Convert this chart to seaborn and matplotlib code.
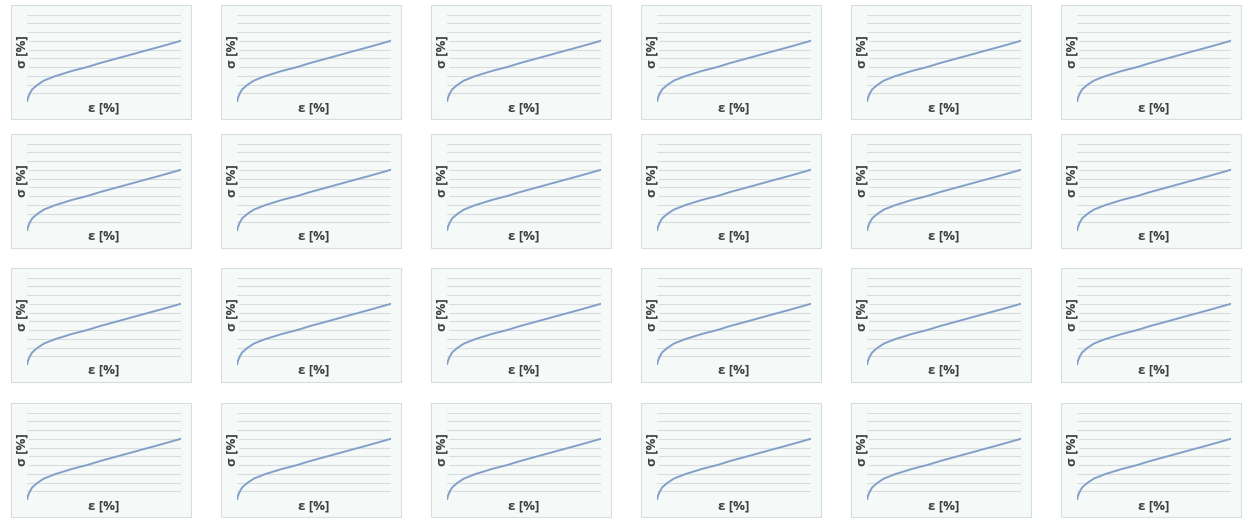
import matplotlib
matplotlib.use("Agg")
import matplotlib.pyplot as plt
import seaborn as sns
import pandas as pd
from matplotlib.patches import Rectangle

# ---- data ----
strain = [0, 0.65, 1.9, 3.4, 6.7, 11.0, 18.2, 29.2, 39.6, 47.4, 60.4, 73.4, 86.4, 100]
stress = [0, 0.5, 1.0, 1.45, 1.95, 2.45, 2.95, 3.55, 4.02, 4.45, 5.07, 5.7, 6.32, 7.0]
x_label = "ε [%]"
y_label = "σ [%]"
n_rows = 4
n_cols = 6

df = pd.DataFrame({"strain": strain, "stress": stress})

sns.set_theme(style="white")
plt.rcParams["font.family"] = ["Open Sans", "DejaVu Sans"]

W, H = 1245, 518
fig = plt.figure(figsize=(W / 100, H / 100), dpi=100)
fig.patch.set_facecolor("white")

col_left = [11 + 210 * c for c in range(n_cols)]
row_top = [5, 134, 268, 403]
box_w, box_h = 180, 114

bg = "#f5f9f8"
edge = "#d8dddd"
grid_c = "#dadddd"
line_c = "#83a0c8"
txt_c = "#404040"

for r in range(n_rows):
    for c in range(n_cols):
        bl = col_left[c]
        bt = row_top[r]
        # panel box
        fig.patches.append(Rectangle((bl / W, 1 - (bt + box_h) / H), box_w / W, box_h / H,
                                     transform=fig.transFigure, facecolor=bg,
                                     edgecolor=edge, linewidth=0.8, zorder=-5))
        pl, pr = bl + 16, bl + 170
        pt, pb = bt + 9.5, bt + 97
        ax = fig.add_axes([pl / W, 1 - pb / H, (pr - pl) / W, (pb - pt) / H])
        ax.set_facecolor("none")
        for yv in range(0, 11):
            ax.axhline(yv, color=grid_c, lw=0.8, zorder=1)
        sns.lineplot(data=df, x="strain", y="stress", ax=ax, color=line_c,
                     lw=1.4, zorder=3)
        ax.set_xlim(0, 100)
        ax.set_ylim(0, 10)
        ax.set_xticks([])
        ax.set_yticks([])
        ax.set_xlabel("")
        ax.set_ylabel("")
        for s in ax.spines.values():
            s.set_visible(False)
        # axis titles
        fig.text((pl + pr) / 2 / W, 1 - (bt + 102.5) / H, x_label, ha="center", va="center",
                 fontsize=9.5, fontweight="bold", color=txt_c)
        fig.text((bl + 11) / W, 1 - (bt + 47) / H, y_label, ha="center", va="center",
                 rotation=90, fontsize=9.5, fontweight="bold", color=txt_c,
                 bbox=dict(facecolor=bg, edgecolor="none", pad=0.5), zorder=5)

fig.savefig("out.png", dpi=100, facecolor="white")
